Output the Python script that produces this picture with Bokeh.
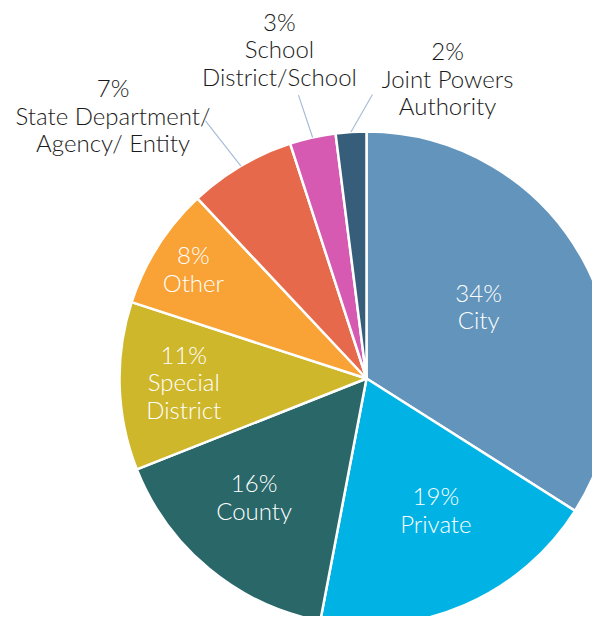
import math
from bokeh.plotting import figure
from bokeh.models import Range1d
from bokeh.core.properties import value
from bokeh.embed import file_html
from bokeh.resources import INLINE

# ---- data ----
categories = ["City", "Private", "County", "Special\nDistrict", "Other",
              "State Department/\nAgency/ Entity", "School\nDistrict/School",
              "Joint Powers\nAuthority"]
percents = [34, 19, 16, 11, 8, 7, 3, 2]
colors = ["#6294BC", "#00B3E4", "#296769", "#CFB72B", "#F9A235",
          "#E6694B", "#D65AB1", "#365D79"]

# ---- layout (label placement, per slice) ----
inside = [True, True, True, True, True, False, False, False]
label_r = [0.54, 0.60, 0.66, 0.74, 0.83, 1.48, 1.38, 1.26]
label_da = [4.0, 4.5, -4.0, -0.8, 0.0, 13.3, 2.2, -18.7]
leader_end_r = [0, 0, 0, 0, 0, 1.23, 1.18, 1.15]
leader_end_da = [0, 0, 0, 0, 0, 1.4, 0.9, -4.8]

CX, CY, R = 366, -378, 247
FONT = "Lato Light, Lato"
FS = 24
LH = 27.5

p = figure(width=592, height=616, output_backend="svg", toolbar_location=None,
           x_range=Range1d(0, 592), y_range=Range1d(-616, 0),
           min_border=0, outline_line_color=None)
p.axis.visible = False
p.grid.visible = False

total = float(sum(percents))
cum = 0.0
starts, ends, mids = [], [], []
for v in percents:
    s = math.pi / 2 - 2 * math.pi * cum / total
    cum += v
    e = math.pi / 2 - 2 * math.pi * cum / total
    starts.append(s)
    ends.append(e)
    mids.append((s + e) / 2)

p.wedge(x=[CX] * len(percents), y=[CY] * len(percents), radius=R,
        start_angle=starts, end_angle=ends, direction="clock",
        fill_color=colors, line_color="white", line_width=2.5)

tx, ty, tt, tc = [], [], [], []
lx0, ly0, lx1, ly1 = [], [], [], []
for i, cat in enumerate(categories):
    a = mids[i] + math.radians(label_da[i])
    cxl = CX + label_r[i] * R * math.cos(a)
    cyl = CY + label_r[i] * R * math.sin(a)
    lines = [f"{percents[i]}%"] + cat.split("\n")
    n = len(lines)
    for k, ln in enumerate(lines):
        tx.append(cxl)
        ty.append(cyl + ((n - 1) / 2 - k) * LH)
        tt.append(ln)
        tc.append("white" if inside[i] else "#1a1a1a")
    if not inside[i]:
        lx0.append(CX + 1.0 * R * math.cos(mids[i]))
        ly0.append(CY + 1.0 * R * math.sin(mids[i]))
        b = mids[i] + math.radians(leader_end_da[i])
        lx1.append(CX + leader_end_r[i] * R * math.cos(b))
        ly1.append(CY + leader_end_r[i] * R * math.sin(b))

p.segment(x0=lx0, y0=ly0, x1=lx1, y1=ly1, line_color="#A7BDD6", line_width=1.2)

p.text(x=tx, y=ty, text=tt, text_color=tc, text_align="center",
       text_baseline="middle", text_font=value(FONT),
       text_font_size=f"{FS}px")

open("out.html", "w").write(file_html(p, INLINE))
